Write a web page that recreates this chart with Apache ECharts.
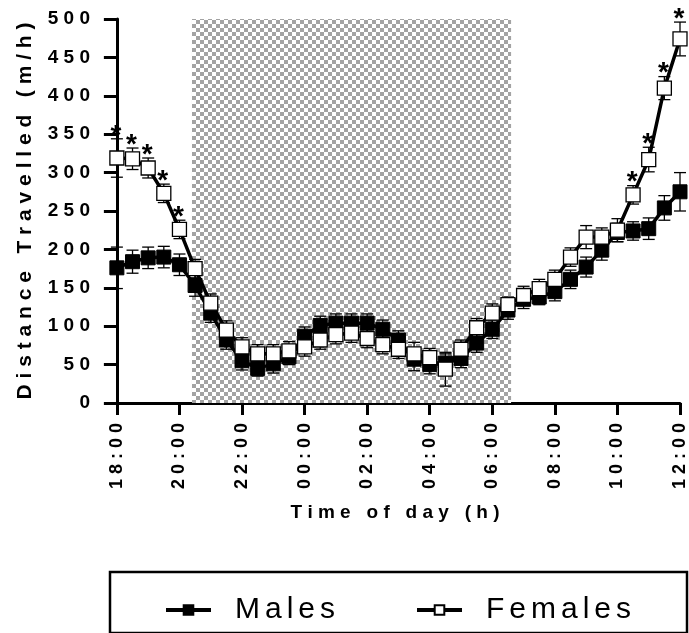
<!DOCTYPE html>
<html><head><meta charset="utf-8">
<script src="https://cdn.jsdelivr.net/npm/echarts@6/dist/echarts.min.js"></script>
<style>html,body{margin:0;padding:0;background:#fff}#c{width:689px;height:633px}</style>
</head><body><div id="c"></div>
<script>
// hours after 18:00
const timeHours = [0,0.5,1,1.5,2,2.5,3,3.5,4,4.5,5,5.5,6,6.5,7,7.5,8,8.5,9,9.5,10,10.5,11,11.5,12,12.5,13,13.5,14,14.5,15,15.5,16,16.5,17,17.5,18];
const tickHours = [0,2,4,6,8,10,12,14,16,18];
const tickLabels = ['18:00','20:00','22:00','00:00','02:00','04:00','06:00','08:00','10:00','12:00'];
const males    = [176,184,189,190,180,153,117,82,55,45,51,60,87,101,104,104,104,96,82,57,50,52,58,78,96,121,135,138,145,161,177,199,222,224,227,254,275];
const malesErr = [27,15,14,14,14,14,12,12,12,10,12,10,12,12,12,12,12,12,12,15,12,12,12,12,12,12,12,10,12,12,13,13,12,12,14,16,25];
const females    = [319,318,306,273,226,175,130,95,73,64,64,68,73,82,89,91,84,76,70,64,59,44,70,98,117,128,140,149,161,190,216,216,225,271,317,410,474];
const femalesErr = [25,14,13,12,12,12,12,12,12,12,12,12,12,12,12,12,12,12,12,15,12,22,12,12,12,10,12,12,12,12,15,12,15,12,16,15,22];
const femalesSig = [0,1,2,3,4,33,34,35,36];
const darkPhase = [2.4, 12.6];
const yMax = 500;

const FONT = '"Liberation Sans", Arial, sans-serif';
const sp = s => s.split('').join(' ');
const sp6 = s => s.split('').join('\u2006');

// checkerboard pattern for dark phase
const pc = document.createElement('canvas');
pc.width = 8; pc.height = 8;
const pctx = pc.getContext('2d');
pctx.fillStyle = '#ffffff'; pctx.fillRect(0,0,8,8);
pctx.fillStyle = '#a3a3a3'; pctx.fillRect(0,0,4,4); pctx.fillRect(4,4,4,4);

function errRender(sig) {
  return function(params, api) {
    const i = params.dataIndex;
    const x = api.value(0), y = api.value(1), e = api.value(2);
    const top = api.coord([x, y + e]);
    const bot = api.coord([x, y - e]);
    const hw = 6;
    const st = {stroke:'#000', lineWidth:1.3};
    const ch = [
      {type:'line', shape:{x1:top[0],y1:top[1],x2:bot[0],y2:bot[1]}, style:st},
      {type:'line', shape:{x1:top[0]-hw,y1:top[1],x2:top[0]+hw,y2:top[1]}, style:st},
      {type:'line', shape:{x1:bot[0]-hw,y1:bot[1],x2:bot[0]+hw,y2:bot[1]}, style:st}
    ];
    if (sig && sig.indexOf(i) >= 0) {
      ch.push({type:'text', x: top[0] - 1, y: top[1] - 3,
        style:{text:'*', font:'bold 28px ' + FONT, fill:'#000', align:'center', verticalAlign:'middle'}});
    }
    return {type:'group', children: ch};
  };
}

const chart = echarts.init(document.getElementById('c'), null, {renderer:'canvas'});
chart.setOption({
  animation: false,
  backgroundColor: '#fff',
  grid: {left:110, right:9, top:19, bottom:230, containLabel:false},
  xAxis: {
    type:'value', min:-0.22, max:18,
    name: 'T i m e   o f   d a y   ( h )', nameLocation:'middle', nameGap:100,
    nameTextStyle:{fontFamily:FONT, fontWeight:'bold', fontSize:19, color:'#000'},
    axisLine:{show:true, lineStyle:{color:'#000', width:3}},
    axisTick:{show:true, customValues: tickHours, length:12, lineStyle:{color:'#000', width:3}},
    axisLabel:{customValues: tickHours, rotate:90, margin:20,
      formatter: v => sp(tickLabels[tickHours.indexOf(v)] || ''),
      fontFamily:FONT, fontWeight:'bold', fontSize:18, color:'#000'},
    splitLine:{show:false}
  },
  yAxis: {
    type:'value', min:0, max:yMax, interval:50,
    name: sp('Distance') + '   ' + sp('Travelled') + '   ' + sp('(m/h)'),
    nameLocation:'middle', nameGap:74, nameRotate:90,
    nameTextStyle:{fontFamily:FONT, fontWeight:'bold', fontSize:21, color:'#000'},
    axisLine:{show:true, lineStyle:{color:'#000', width:3}},
    axisTick:{show:true, length:13, lineStyle:{color:'#000', width:3}},
    axisLabel:{margin:20, formatter: v => sp(String(v)),
      fontFamily:FONT, fontWeight:'bold', fontSize:19, color:'#000'},
    splitLine:{show:false}
  },
  legend: {
    data:['Males','Females'], top:572, left:110, width:520,
    padding:[23, 56, 8, 54], itemGap:80, itemWidth:45, itemHeight:12,
    borderColor:'#000', borderWidth:2.5, borderRadius:0,
    lineStyle:{width:4, color:'#000'},
    formatter: n => sp6(n),
    textStyle:{fontFamily:FONT, fontSize:30, color:'#000', padding:[0,0,0,19]}
  },
  series: [
    {
      name:'dark', type:'line', data:[], silent:true, clip:false,
      markArea:{silent:true, itemStyle:{color:{image:pc, repeat:'repeat'}},
        data:[[{xAxis:darkPhase[0], yAxis:0},{xAxis:darkPhase[1], yAxis:yMax + 5}]]},
      z:1
    },
    {
      name:'Males-err', type:'custom', renderItem: errRender(null), z:2,
      encode:{x:0, y:1}, data: timeHours.map((t,i)=>[t, males[i], malesErr[i]])
    },
    {
      name:'Females-err', type:'custom', renderItem: errRender(femalesSig), z:2,
      encode:{x:0, y:1}, data: timeHours.map((t,i)=>[t, females[i], femalesErr[i]])
    },
    {
      name:'Males', type:'line', symbol:'rect', symbolSize:14, z:3,
      lineStyle:{color:'#000', width:3.5}, itemStyle:{color:'#000', borderColor:'#000', borderWidth:1},
      data: timeHours.map((t,i)=>[t, males[i]])
    },
    {
      name:'Females', type:'line', symbol:'rect', symbolSize:14, z:4,
      lineStyle:{color:'#000', width:3.5}, itemStyle:{color:'#fff', borderColor:'#000', borderWidth:1.3},
      data: timeHours.map((t,i)=>[t, females[i]])
    }
  ]
});
</script>
</body></html>
